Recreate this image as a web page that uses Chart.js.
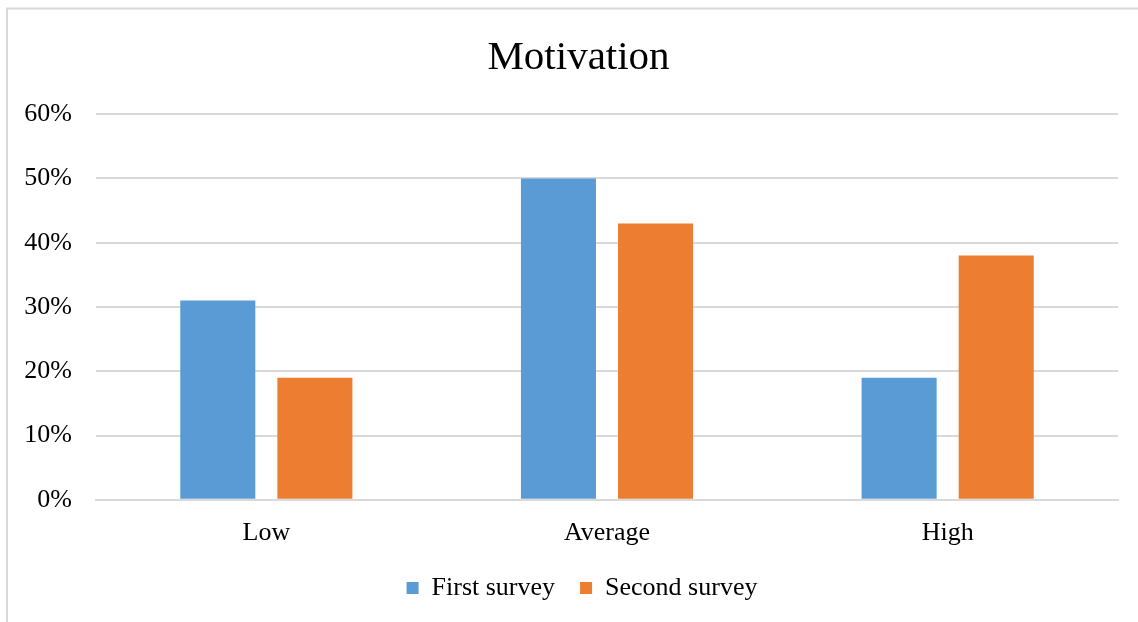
<!DOCTYPE html>
<html>
<head>
<meta charset="utf-8">
<script src="https://cdn.jsdelivr.net/npm/chart.js@4/dist/chart.umd.min.js"></script>
<style>
html,body{margin:0;padding:0;background:#fff;}
#wrap{position:relative;width:1138px;height:622px;}
</style>
</head>
<body>
<div id="wrap"><canvas id="c" width="1138" height="622"></canvas></div>
<script>
const categories = ['Low', 'Average', 'High'];
const firstSurvey = [31, 50, 19];
const secondSurvey = [19, 43, 38];
const seriesNames = ['First survey', 'Second survey'];
const yTicks = [0, 10, 20, 30, 40, 50, 60];

const serif = "'Liberation Serif', 'Times New Roman', serif";

const borderPlugin = {
  id: 'frame',
  afterLayout(chart) {
    if (chart.legend) { chart.legend.left += 18; chart.legend.right += 18; }
    if (chart.titleBlock) { chart.titleBlock.left += 29; chart.titleBlock.right += 0; }
  },
  beforeDraw(chart) {
    const ctx = chart.ctx;
    ctx.save();
    ctx.fillStyle = '#ffffff';
    ctx.fillRect(0, 0, chart.width, chart.height);
    ctx.strokeStyle = '#d9d9d9';
    ctx.lineWidth = 2;
    ctx.beginPath();
    ctx.moveTo(7, chart.height);
    ctx.lineTo(7, 8.5);
    ctx.lineTo(chart.width, 8.5);
    ctx.stroke();
    ctx.restore();
  }
};

new Chart(document.getElementById('c'), {
  type: 'bar',
  data: {
    labels: categories,
    datasets: [
      { label: seriesNames[0], data: firstSurvey, backgroundColor: '#5b9bd5', borderWidth: 0 },
      { label: seriesNames[1], data: secondSurvey, backgroundColor: '#ed7d31', borderWidth: 0 }
    ]
  },
  options: {
    responsive: false,
    animation: false,
    devicePixelRatio: 1,
    categoryPercentage: 0.57,
    barPercentage: 0.773,
    layout: { padding: { left: 10, right: 20, top: 8, bottom: 11 } },
    plugins: {
      title: {
        display: true,
        text: 'Motivation',
        color: '#000',
        font: { family: serif, size: 41, weight: 'normal' },
        padding: { top: 26, bottom: 31 }
      },
      legend: {
        position: 'bottom',
        labels: {
          color: '#000',
          font: { family: serif, size: 26 },
          boxWidth: 12,
          boxHeight: 12,
          padding: 25
        }
      },
      tooltip: { enabled: false }
    },
    scales: {
      x: {
        grid: { display: false, drawTicks: false },
        border: { display: true, color: '#d9d9d9', width: 2 },
        ticks: { color: '#000', font: { family: serif, size: 26 }, padding: 18 },
        afterFit(scale) { scale.height -= 17; }
      },
      y: {
        min: yTicks[0],
        max: yTicks[yTicks.length - 1],
        afterBuildTicks(scale) { scale.ticks = yTicks.map(v => ({ value: v })); },
        grid: { color: '#d9d9d9', lineWidth: 2, drawTicks: false },
        border: { display: false },
        ticks: {
          color: '#000',
          font: { family: serif, size: 26 },
          padding: 24,
          callback: v => v + '%'
        },
        afterFit(scale) { scale.width = 86; }
      }
    }
  },
  plugins: [borderPlugin]
});
</script>
</body>
</html>
